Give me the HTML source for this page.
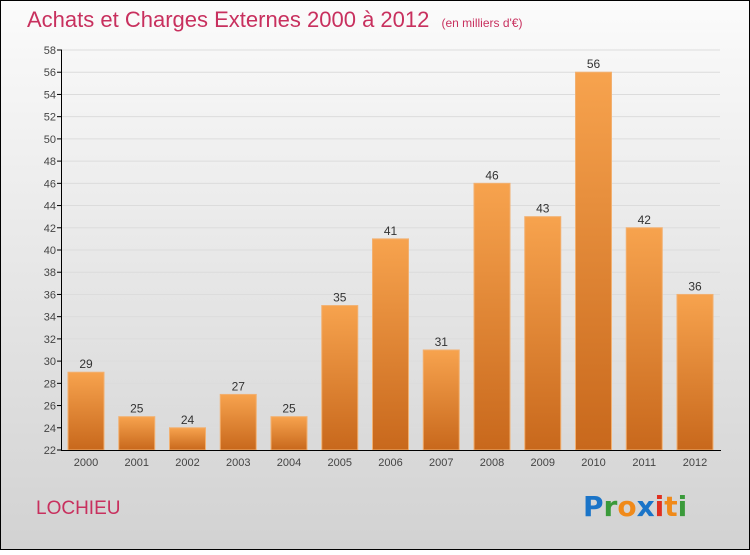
<!DOCTYPE html>
<html><head><meta charset="utf-8"><style>
html,body{margin:0;padding:0}
body{width:750px;height:550px;overflow:hidden;font-family:"Liberation Sans",sans-serif}
</style></head><body>
<svg id="chart" width="750" height="550" xmlns="http://www.w3.org/2000/svg">
<defs>
<linearGradient id="bg" x1="0" y1="0" x2="0" y2="1"><stop offset="0" stop-color="#fbfbfb"/><stop offset="1" stop-color="#d2d2d2"/></linearGradient>
<linearGradient id="bar" x1="0" y1="0" x2="0" y2="1"><stop offset="0" stop-color="#f7a34e"/><stop offset="1" stop-color="#c8681c"/></linearGradient>
</defs>
<rect x="0.5" y="0.5" width="749" height="549" fill="url(#bg)" stroke="#000"/>
<text x="27" y="27" font-size="22" fill="#c8305e">Achats et Charges Externes 2000 à 2012 <tspan font-size="12" dx="6">(en milliers d'€)</tspan></text>
<text x="36" y="514" font-size="19" fill="#c8305e">LOCHIEU</text>
<g font-size="28" font-weight="bold" font-family="'DejaVu Sans',sans-serif">
<text x="583" y="516"><tspan fill="#1a74c8">P</tspan><tspan fill="#3a9a3a">r</tspan><tspan fill="#f08a1a">o</tspan><tspan fill="#1a74c8">x</tspan><tspan fill="#e03020">i</tspan><tspan fill="#f08a1a">t</tspan><tspan fill="#3a9a3a">i</tspan></text>
</g>
<g id="plot"></g>
</svg>
<script>
const years=["2000","2001","2002","2003","2004","2005","2006","2007","2008","2009","2010","2011","2012"];
const values=[29,25,24,27,25,35,41,31,46,43,56,42,36];
const yTicks=[22,24,26,28,30,32,34,36,38,40,42,44,46,48,50,52,54,56,58];
const NS="http://www.w3.org/2000/svg";
const plotG=document.getElementById('plot');
const yMin=22,yMax=58,plotTop=50,plotBot=450;
function y(v){return plotBot-(v-yMin)/(yMax-yMin)*(plotBot-plotTop);}
function x(i){return 86+i*50.75;}
function mk(t,a){const e=document.createElementNS(NS,t);for(const k in a)e.setAttribute(k,a[k]);plotG.appendChild(e);return e;}
yTicks.forEach(t=>{
 const l=mk('line',{x1:62,x2:720,y1:y(t),y2:y(t),stroke:'#dcdcdc','stroke-width':1});
 
 
 const tk=mk('line',{x1:57,x2:62,y1:y(t),y2:y(t),stroke:'#000'});
 
 
 const tx=mk('text',{x:56,y:y(t)+4,'text-anchor':'end','font-size':11,fill:'#444'});
 tx.textContent=t;
 
 
});
values.forEach((v,i)=>{
 const r=mk('rect',{x:x(i)-18,y:y(v),width:36,height:plotBot-y(v),fill:'url(#bar)',stroke:'#f2b070','stroke-width':1});
 
 
 const t=mk('text',{x:x(i),y:y(v)-4,'text-anchor':'middle','font-size':12,fill:'#333'});
 t.textContent=v;
 
 
 const xl=mk('text',{x:x(i),y:466,'text-anchor':'middle','font-size':11,fill:'#444'});
 xl.textContent=years[i];
 
 
});
const ya=mk('line',{x1:61.5,x2:61.5,y1:plotTop,y2:plotBot,stroke:'#000'});


const xa=mk('line',{x1:61,x2:721,y1:plotBot+0.5,y2:plotBot+0.5,stroke:'#000'});


</script>
</body></html>
